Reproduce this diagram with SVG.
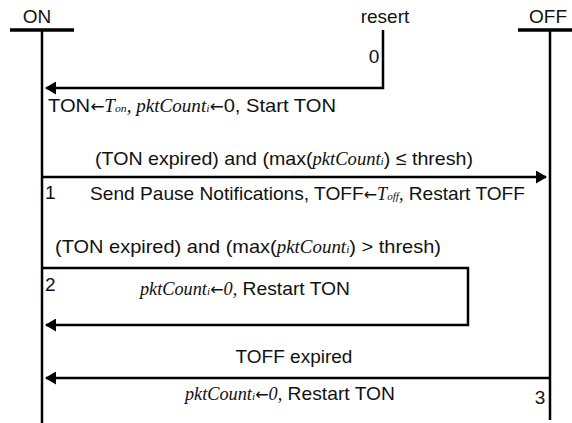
<svg xmlns="http://www.w3.org/2000/svg" width="572" height="423" viewBox="0 0 572 423">
<style>
.t{font-family:"Liberation Sans","Noto Sans",sans-serif;font-size:19px;fill:#111}
.i{font-family:"Liberation Serif",serif;font-style:italic;font-size:18px}
.s{font-size:11px}
.a{font-family:"DejaVu Sans",sans-serif;font-style:normal;font-size:16px}
.ln{stroke:#000;stroke-width:2.5;fill:none}
.hd{stroke:#000;stroke-width:3.5}
</style>
<defs>
<marker id="ah" markerWidth="11" markerHeight="13" refX="10" refY="6.5" orient="auto" markerUnits="userSpaceOnUse">
<path d="M0,0 L11,6.5 L0,13 Z" fill="#000"/>
</marker>
</defs>
<rect width="572" height="423" fill="#fff"/>
<g id="on">
<line class="hd" x1="10" y1="30" x2="74" y2="30"/>
<line class="ln" x1="42" y1="30" x2="42" y2="423"/>
<text class="t" x="37" y="23" text-anchor="middle">ON</text>
</g>
<g id="off">
<line class="hd" x1="518" y1="30" x2="572" y2="30"/>
<line class="ln" x1="550" y1="30" x2="550" y2="420"/>
<text class="t" x="548" y="23" text-anchor="middle">OFF</text>
</g>
<g id="reset">
<text class="t" x="385" y="23" text-anchor="middle">resert</text>
</g>
<g id="connectors">
<path class="ln" d="M383,30 V88 H46" marker-end="url(#ah)"/>
<path class="ln" d="M42,177 H546" marker-end="url(#ah)"/>
<path class="ln" d="M42,268 H468 V325 H46" marker-end="url(#ah)"/>
<path class="ln" d="M550,378 H46" marker-end="url(#ah)"/>
</g>
<g id="labels">
<text class="t" x="374" y="63" text-anchor="middle">0</text>
<text class="t" x="48" y="112" textLength="288" lengthAdjust="spacingAndGlyphs">TON<tspan class="a">←</tspan><tspan class="i">T<tspan class="s">on</tspan>, pktCount<tspan class="s">i</tspan></tspan><tspan class="a">←</tspan>0, Start TON</text>
<text class="t" x="95" y="165" textLength="378" lengthAdjust="spacingAndGlyphs">(TON expired) and (max(<tspan class="i">pktCount<tspan class="s">i</tspan></tspan>) ≤ thresh)</text>
<text class="t" x="45" y="199">1</text>
<text class="t" x="90" y="200" textLength="435" lengthAdjust="spacingAndGlyphs">Send Pause Notifications, TOFF<tspan class="a">←</tspan><tspan class="i">T<tspan class="s">off</tspan>,</tspan> Restart TOFF</text>
<text class="t" x="55" y="253" textLength="386" lengthAdjust="spacingAndGlyphs">(TON expired) and (max(<tspan class="i">pktCount<tspan class="s">i</tspan></tspan>)  &gt;  thresh)</text>
<text class="t" x="45" y="291">2</text>
<text class="t" x="140" y="295" textLength="210" lengthAdjust="spacingAndGlyphs"><tspan class="i">pktCount<tspan class="s">i</tspan><tspan class="a">←</tspan>0,</tspan> Restart TON</text>
<text class="t" x="294" y="363" text-anchor="middle">TOFF expired</text>
<text class="t" x="185" y="400" textLength="210" lengthAdjust="spacingAndGlyphs"><tspan class="i">pktCount<tspan class="s">i</tspan><tspan class="a">←</tspan>0,</tspan> Restart TON</text>
<text class="t" x="540" y="404" text-anchor="middle">3</text>
</g>
</svg>
